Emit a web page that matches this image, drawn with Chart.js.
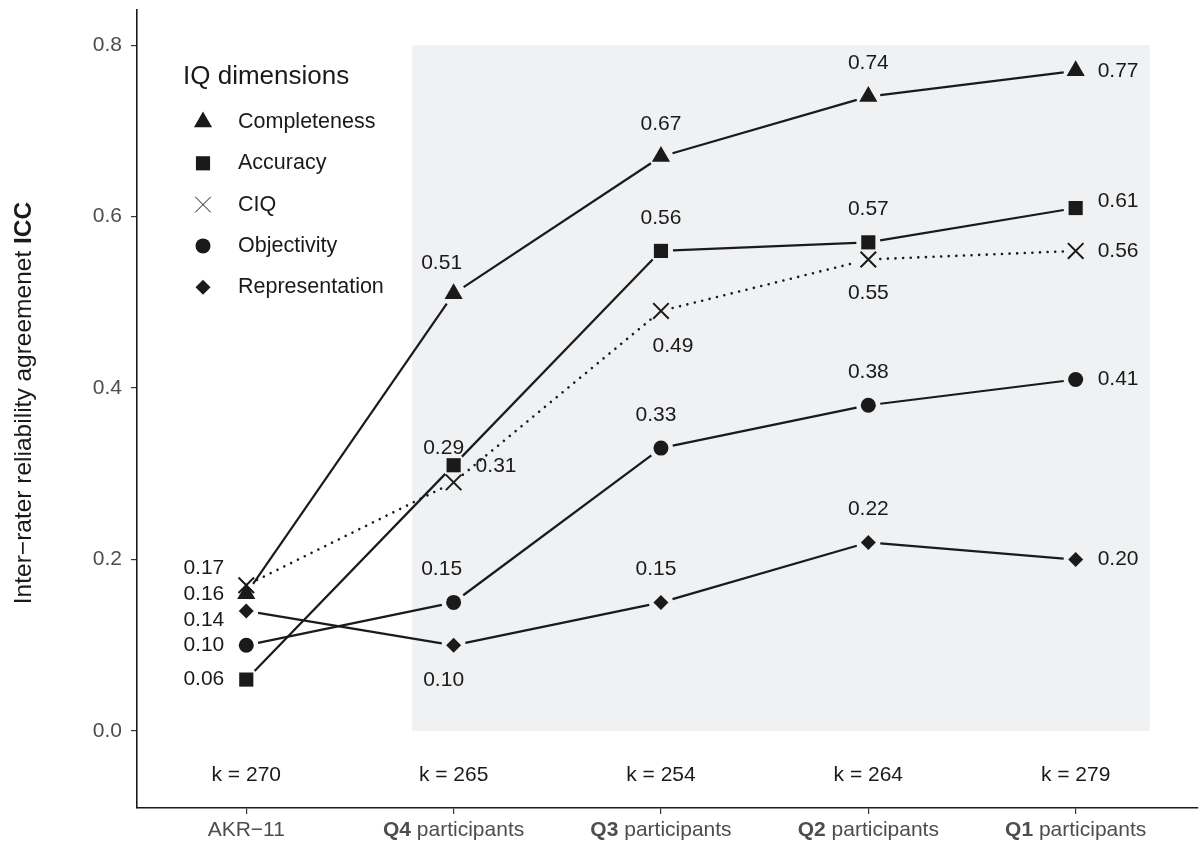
<!DOCTYPE html>
<html>
<head>
<meta charset="utf-8">
<title>Inter-rater reliability by IQ dimension</title>
<script src="https://cdn.jsdelivr.net/npm/chart.js@4.4.1/dist/chart.umd.min.js"></script>
<style>
  html, body { margin: 0; padding: 0; background: #ffffff; }
  #wrap { width: 1200px; height: 843px; position: relative; }
</style>
</head>
<body>
<div id="wrap"><canvas id="chart" width="1200" height="843"></canvas></div>
<script>
// Rater groups along the x axis (position index = array index)
const groups = ['AKR\u221211', 'Q4', 'Q3', 'Q2', 'Q1'];
const groupBold = ['', 'Q4', 'Q3', 'Q2', 'Q1'];
const groupRest = ['AKR\u221211', ' participants', ' participants', ' participants', ' participants'];
const kCounts = [270, 265, 254, 264, 279];

// ICC per IQ dimension
const completeness   = [0.16, 0.51, 0.67, 0.74, 0.77];
const accuracy       = [0.06, 0.31, 0.56, 0.57, 0.61];
const ciq            = [0.17, 0.29, 0.49, 0.55, 0.56];
const objectivity    = [0.10, 0.15, 0.33, 0.38, 0.41];
const representation = [0.14, 0.10, 0.15, 0.22, 0.20];

const yTicks = [0.0, 0.2, 0.4, 0.6, 0.8];

const INK = '#1a1a1a';
const GREY_TEXT = '#4d4d4d';
const FONT = '"Liberation Sans", Arial, Helvetica, sans-serif';

// label placement per dimension: [dx, dy, align]
const labelLayout = {
  Completeness:   [[-22, 0, 'right'], [-12, -31, 'center'], [0, -32, 'center'], [0, -33, 'center'], [22, 0, 'left']],
  Accuracy:       [[-22, 0, 'right'], [22, 1, 'left'], [0, -33, 'center'], [0, -33, 'center'], [22, -7, 'left']],
  CIQ:            [[-22, -17, 'right'], [-10, -34, 'center'], [12, 35, 'center'], [0, 34, 'center'], [22, 0, 'left']],
  Objectivity:    [[-22, 0, 'right'], [-12, -33, 'center'], [-5, -33, 'center'], [0, -33, 'center'], [22, 0, 'left']],
  Representation: [[-22, 9, 'right'], [-10, 35, 'center'], [-5, -33, 'center'], [0, -33, 'center'], [22, 0, 'left']]
};

function toPoints(values) {
  return values.map((v, i) => ({ x: i, y: v }));
}

const series = [
  { label: 'Completeness',   values: completeness,   style: 'triangle', radius: 10.5, dashed: false },
  { label: 'Accuracy',       values: accuracy,       style: 'rect',     radius: 10,   dashed: false },
  { label: 'CIQ',            values: ciq,            style: 'crossRot', radius: 11,   dashed: true  },
  { label: 'Objectivity',    values: objectivity,    style: 'circle',   radius: 7.5,  dashed: false },
  { label: 'Representation', values: representation, style: 'rectRot',  radius: 7.5,  dashed: false }
];

// shaded band behind the four participant groups
const bandPlugin = {
  id: 'band',
  beforeDatasetsDraw(chart) {
    const { ctx, scales: { x, y } } = chart;
    const x0 = x.getPixelForValue(0.8), x1 = x.getPixelForValue(4.357);
    const y0 = y.getPixelForValue(0.8), y1 = y.getPixelForValue(0);
    ctx.save();
    ctx.fillStyle = '#f0f1f3';
    ctx.fillRect(x0, y0, x1 - x0, y1 - y0);
    ctx.restore();
  }
};

// connecting lines that stop short of each marker
const pathPlugin = {
  id: 'gappedPaths',
  beforeDatasetsDraw(chart) {
    const ctx = chart.ctx;
    const gap = 12;
    chart.data.datasets.forEach((ds, di) => {
      const pts = chart.getDatasetMeta(di).data;
      ctx.save();
      ctx.strokeStyle = INK;
      if (ds.dashedPath) {
        ctx.lineWidth = 2.6;
        ctx.lineCap = 'round';
        ctx.setLineDash([0.01, 7.6]);
      } else {
        ctx.lineWidth = 2.2;
        ctx.lineCap = 'butt';
        ctx.setLineDash([]);
      }
      for (let i = 0; i < pts.length - 1; i++) {
        const a = pts[i], b = pts[i + 1];
        const dx = b.x - a.x, dy = b.y - a.y;
        const len = Math.hypot(dx, dy);
        if (len <= 2 * gap) continue;
        const ux = dx / len, uy = dy / len;
        ctx.beginPath();
        ctx.moveTo(a.x + ux * gap, a.y + uy * gap);
        ctx.lineTo(b.x - ux * gap, b.y - uy * gap);
        ctx.stroke();
      }
      ctx.restore();
    });
  }
};

// value labels, group counts, category labels, axis title and legend
const annotatePlugin = {
  id: 'annotate',
  afterDatasetsDraw(chart) {
    const { ctx, scales: { x, y } } = chart;
    ctx.save();
    ctx.textBaseline = 'middle';

    // value labels
    ctx.font = '21px ' + FONT;
    ctx.fillStyle = INK;
    chart.data.datasets.forEach((ds, di) => {
      const pts = chart.getDatasetMeta(di).data;
      const layout = labelLayout[ds.label];
      pts.forEach((p, i) => {
        const [dx, dy, align] = layout[i];
        ctx.textAlign = align;
        ctx.fillText(ds.data[i].y.toFixed(2), p.x + dx, p.y + dy);
      });
    });

    // group sizes
    ctx.textAlign = 'center';
    kCounts.forEach((k, i) => {
      ctx.fillText('k = ' + k, x.getPixelForValue(i), y.getPixelForValue(-0.051));
    });

    // category labels with bold quartile prefix
    ctx.fillStyle = GREY_TEXT;
    const ly = 830;
    groups.forEach((g, i) => {
      const cx = x.getPixelForValue(i);
      const boldFont = 'bold 21px ' + FONT;
      const normFont = '21px ' + FONT;
      ctx.font = boldFont;
      const wb = groupBold[i] ? ctx.measureText(groupBold[i]).width : 0;
      ctx.font = normFont;
      const wn = ctx.measureText(groupRest[i]).width;
      let sx = cx - (wb + wn) / 2;
      ctx.textAlign = 'left';
      if (groupBold[i]) {
        ctx.font = boldFont;
        ctx.fillText(groupBold[i], sx, ly);
        sx += wb;
      }
      ctx.font = normFont;
      ctx.fillText(groupRest[i], sx, ly);
    });

    // y axis title
    ctx.save();
    ctx.translate(24, 403);
    ctx.rotate(-Math.PI / 2);
    ctx.fillStyle = INK;
    const t1 = 'Inter\u2212rater reliability agreemenet ';
    const t2 = 'ICC';
    ctx.font = '24.5px ' + FONT;
    const w1 = ctx.measureText(t1).width;
    ctx.font = 'bold 24.5px ' + FONT;
    const w2 = ctx.measureText(t2).width;
    ctx.textAlign = 'left';
    ctx.font = '24.5px ' + FONT;
    ctx.fillText(t1, -(w1 + w2) / 2, 0);
    ctx.font = 'bold 24.5px ' + FONT;
    ctx.fillText(t2, -(w1 + w2) / 2 + w1, 0);
    ctx.restore();

    // legend
    ctx.fillStyle = INK;
    ctx.textAlign = 'left';
    ctx.font = '26px ' + FONT;
    ctx.fillText('IQ dimensions', 183, 77);
    ctx.font = '21.5px ' + FONT;
    chart.data.datasets.forEach((ds, di) => {
      const cy = 122 + di * 41.3;
      Chart.helpers.drawPoint(ctx, {
        pointStyle: ds.pointStyle,
        radius: ds.pointRadius,
        rotation: 0,
        borderWidth: ds.pointBorderWidth
      }, 203, cy);
      ctx.fillStyle = INK;
      ctx.strokeStyle = INK;
      ctx.fillText(ds.label, 238, cy);
    });
    ctx.restore();
  }
};

const datasets = series.map(s => ({
  label: s.label,
  data: toPoints(s.values),
  showLine: false,
  pointStyle: s.style,
  pointRadius: s.radius,
  pointHoverRadius: s.radius,
  pointBackgroundColor: INK,
  pointBorderColor: INK,
  pointBorderWidth: s.style === 'crossRot' ? 2 : 0,
  dashedPath: s.dashed
}));

new Chart(document.getElementById('chart'), {
  type: 'line',
  data: { datasets },
  options: {
    responsive: false,
    animation: false,
    events: [],
    layout: { autoPadding: false, padding: { top: 10, right: 2, bottom: 0, left: 0 } },
    plugins: {
      legend: { display: false },
      tooltip: { enabled: false }
    },
    scales: {
      x: {
        type: 'linear',
        min: -0.527,
        max: 4.59,
        afterBuildTicks(scale) { scale.ticks = groups.map((_, i) => ({ value: i })); },
        afterFit(scale) { scale.height = 35; scale.paddingLeft = 0; scale.paddingRight = 0; },
        ticks: { display: false },
        grid: { drawOnChartArea: false, drawTicks: true, tickLength: 6, color: '#333333', lineWidth: 1.2 },
        border: { display: true, color: '#1a1a1a', width: 1.6 }
      },
      y: {
        type: 'linear',
        min: -0.0898,
        max: 0.841,
        afterBuildTicks(scale) { scale.ticks = yTicks.map(v => ({ value: v })); },
        afterFit(scale) { scale.width = 137; scale.paddingTop = 0; scale.paddingBottom = 0; },
        ticks: {
          callback: v => Number(v).toFixed(1),
          color: GREY_TEXT,
          font: { family: FONT, size: 21 },
          padding: 9
        },
        grid: { drawOnChartArea: false, drawTicks: true, tickLength: 6, color: '#333333', lineWidth: 1.2 },
        border: { display: true, color: '#1a1a1a', width: 1.6 }
      }
    }
  },
  plugins: [bandPlugin, pathPlugin, annotatePlugin]
});
</script>
</body>
</html>
